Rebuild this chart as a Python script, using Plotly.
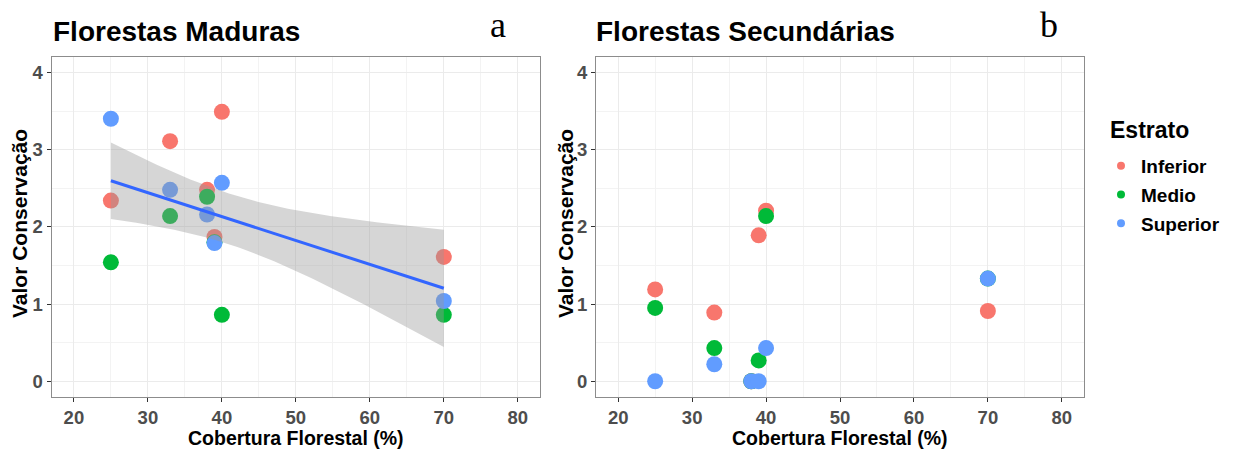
import numpy as np
import plotly.graph_objects as go

# ---------------- data ----------------
cobertura = [25, 33, 38, 39, 40, 70]
estratos = ["Inferior", "Medio", "Superior"]
cores = ["#F8766D", "#00BA38", "#619CFF"]

maduras_inferior = [2.34, 3.11, 2.48, 1.87, 3.49, 1.61]
maduras_medio = [1.54, 2.14, 2.39, 1.80, 0.86, 0.86]
maduras_superior = [3.40, 2.48, 2.16, 1.79, 2.57, 1.04]

secundarias_inferior = [1.19, 0.89, 0.0, 1.89, 2.21, 0.91]
secundarias_medio = [0.95, 0.43, 0.0, 0.27, 2.14, 1.33]
secundarias_superior = [0.0, 0.22, 0.0, 0.0, 0.43, 1.33]

x_ticks = [20, 30, 40, 50, 60, 70, 80]
y_ticks = [0, 1, 2, 3, 4]

maduras = [maduras_inferior, maduras_medio, maduras_superior]
secundarias = [secundarias_inferior, secundarias_medio, secundarias_superior]

# ---------------- linear fit (lm) with 95% CI ----------------
xa = np.array(cobertura * 3, dtype=float)
ya = np.concatenate([np.array(v, dtype=float) for v in maduras])
n = len(xa)
b1, b0 = np.polyfit(xa, ya, 1)
resid = ya - (b0 + b1 * xa)
sigma = np.sqrt(np.sum(resid ** 2) / (n - 2))
sxx = np.sum((xa - xa.mean()) ** 2)
t_crit = 2.119905  # t(0.975, df=16)
xs = np.linspace(min(cobertura), max(cobertura), 80)
ys = b0 + b1 * xs
se = sigma * np.sqrt(1.0 / n + (xs - xa.mean()) ** 2 / sxx)
upper = ys + t_crit * se
lower = ys - t_crit * se

fig = go.Figure()

# points
for i, (nome, cor) in enumerate(zip(estratos, cores)):
    fig.add_trace(go.Scatter(
        x=cobertura, y=maduras[i], mode="markers", name=nome,
        legendgroup=nome, showlegend=False,
        marker=dict(color=cor, size=16, line=dict(width=0)),
        xaxis="x", yaxis="y"))
for i, (nome, cor) in enumerate(zip(estratos, cores)):
    fig.add_trace(go.Scatter(
        x=cobertura, y=secundarias[i], mode="markers", name=nome,
        legendgroup=nome, showlegend=False,
        marker=dict(color=cor, size=16, line=dict(width=0)),
        xaxis="x2", yaxis="y2"))

# confidence band (drawn over points like geom_smooth)
fig.add_trace(go.Scatter(
    x=np.concatenate([xs, xs[::-1]]), y=np.concatenate([upper, lower[::-1]]),
    fill="toself", fillcolor="rgba(153,153,153,0.4)", line=dict(width=0),
    mode="lines", showlegend=False, hoverinfo="skip", xaxis="x", yaxis="y"))
fig.add_trace(go.Scatter(
    x=xs, y=ys, mode="lines", line=dict(color="#3366FF", width=3),
    showlegend=False, xaxis="x", yaxis="y"))

# legend entries (small keys, as in ggplot)
for nome, cor in zip(estratos, cores):
    fig.add_trace(go.Scatter(
        x=[None], y=[None], mode="markers", name=nome, legendgroup=nome,
        showlegend=True, marker=dict(color=cor, size=8, line=dict(width=0)),
        xaxis="x2", yaxis="y2"))

W, H = 1238, 452
def fx(p):
    return p / W
def fy(p):
    return 1 - p / H

SANS = "Liberation Sans, Arial, sans-serif"
tickfont = dict(family=SANS, size=18.5, color="#4D4D4D", weight="bold")

axis_common = dict(
    showgrid=True, gridcolor="#EBEBEB", gridwidth=1.2,
    minor=dict(showgrid=True, gridcolor="#F3F3F3", gridwidth=0.8),
    ticks="outside", ticklen=4, tickcolor="#333333", tickwidth=1,
    showline=True, linecolor="#8C8C8C", linewidth=1.2, mirror=True,
    zeroline=False, tickfont=tickfont,
)

fig.update_layout(
    width=W, height=H,
    margin=dict(l=0, r=0, t=0, b=0),
    paper_bgcolor="white", plot_bgcolor="white",
    xaxis=dict(domain=[fx(51.7), fx(540)], range=[17, 83], tickvals=x_ticks,
               minor_tickvals=[25, 35, 45, 55, 65, 75], anchor="y", **axis_common),
    yaxis=dict(domain=[fy(396.7), fy(57)], range=[-0.2, 4.2], tickvals=y_ticks,
               minor_tickvals=[0.5, 1.5, 2.5, 3.5], anchor="x", **axis_common),
    xaxis2=dict(domain=[fx(596), fx(1084)], range=[17, 83], tickvals=x_ticks,
                minor_tickvals=[25, 35, 45, 55, 65, 75], anchor="y2", **axis_common),
    yaxis2=dict(domain=[fy(396.7), fy(57)], range=[-0.2, 4.2], tickvals=y_ticks,
                minor_tickvals=[0.5, 1.5, 2.5, 3.5], anchor="x2", **axis_common),
    legend=dict(
        x=fx(1101), y=fy(147), xanchor="left", yanchor="top",
        font=dict(family=SANS, size=19, color="black", weight="bold"),
        tracegroupgap=1, bgcolor="rgba(0,0,0,0)",
    ),
    showlegend=True,
)

def note(text, x, y, size, family=SANS, angle=0, xanchor="center", bold=True):
    fig.add_annotation(text=text, x=fx(x), y=fy(y), xref="paper", yref="paper",
                       xanchor=xanchor, yanchor="middle", showarrow=False, textangle=angle,
                       font=dict(family=family, size=size, color="black",
                                 weight="bold" if bold else "normal"))

# panel titles and letters
note("Florestas Maduras", 51, 31, 28, xanchor="left")
note("Florestas Secundárias", 594, 31, 28, xanchor="left")
note("a", 498, 25, 36, family="Liberation Serif, Times New Roman, serif", bold=False)
note("b", 1049, 25, 36, family="Liberation Serif, Times New Roman, serif", bold=False)

# legend title
note("Estrato", 1108, 130, 23, xanchor="left")

# axis titles
note("Cobertura Florestal (%)", 296, 438, 19.5)
note("Cobertura Florestal (%)", 840, 438, 19.5)
note("Valor Conservação", 19, 224, 21, angle=-90)
note("Valor Conservação", 565, 224, 21, angle=-90)

fig.write_html("out.html", config={"displayModeBar": False},
               post_script="document.body.style.margin='0';document.body.style.overflow='hidden';")
